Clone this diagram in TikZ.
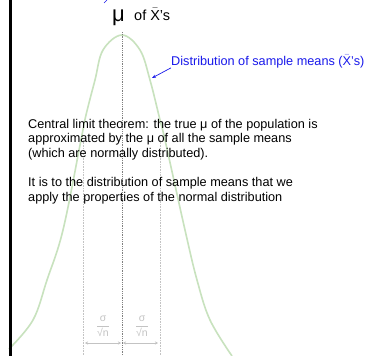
\documentclass[tikz,border=0pt]{standalone}
\usepackage{fontspec, amsmath}
\setmainfont{Liberation Sans}
\usetikzlibrary{positioning, arrows.meta}

\definecolor{curveGreen}{RGB}{200,226,190}
\definecolor{lightGray}{RGB}{195,195,195}
\definecolor{labelBlue}{RGB}{25,25,235}
\newcommand{\xbarchar}{\ensuremath{\bar{\text{X}}}}

\begin{document}
\begin{tikzpicture}[x=1pt, y=-1pt,
    textNode/.style={inner sep=0pt, font=\fontsize{12.7}{14.6}\selectfont},
    blueNode/.style={textNode, text=labelBlue},
    sigmaNode/.style={inner sep=0pt, text=lightGray, font=\fontsize{10.5}{11}\selectfont},
    bellCurve/.style={draw=curveGreen, line width=1.6pt},
    meanLine/.style={draw=gray, densely dotted, line width=0.8pt},
    sideLine/.style={draw=lightGray, densely dotted, line width=0.6pt},
    widthArrow/.style={{Stealth[length=3pt,width=3pt]}-{Stealth[length=3pt,width=3pt]}, draw=lightGray, line width=0.6pt},
    blueArrow/.style={-{Stealth[length=4pt,width=3pt]}, draw=labelBlue, line width=0.7pt}]

  \useasboundingbox[fill=white] (0,0) rectangle (365,356);

  % Bell curve
  \draw[bellCurve] plot[smooth, tension=0.6] coordinates {
    (9,349) (33,320) (47,280) (63,230) (81,140) (86,115) (95,80) (103,50) (122,35)
    (140,50) (150,80) (160,120) (165,140) (185,230) (197,280) (210,320) (232,356)};

  % Mean and sigma lines
  \coordinate (meanTop) at (122,32);
  \coordinate (meanBot) at (122,356);
  \coordinate (leftTop) at (83,140);
  \coordinate (leftBot) at (83,356);
  \coordinate (rightTop) at (160,140);
  \coordinate (rightBot) at (160,356);
  \draw[meanLine] (meanTop) -- (meanBot);
  \draw[sideLine] (leftTop) -- (leftBot);
  \draw[sideLine] (rightTop) -- (rightBot);

  % Axis at the left
  \draw[line width=3pt] (10.5,0) -- (10.5,356);
  \draw[labelBlue, line width=0.7pt] (104,3) -- (107,0);

  % Title
  \node[inner sep=0pt, anchor=base west, font=\fontsize{22}{22}\selectfont] (mu) at (112,21) {μ};
  \node[textNode, anchor=base west, font=\fontsize{14.5}{15}\selectfont] (ofx) at (134,20) {of \xbarchar's};

  % Blue label
  \node[blueNode, anchor=base west] (distLabel) at (171,65) {Distribution of sample means (\xbarchar's)};
  \coordinate (curvePt) at (152,78);
  \draw[blueArrow] (distLabel.south west) -- (curvePt);

  % Text
  \node[textNode, anchor=base west, align=left] (theorem) at (28,201)
    {Central limit theorem: the true μ of the population is\\
     approximated by the μ of all the sample means\\
     (which are normally distributed).\\[14.6pt]
     It is to the distribution of sample means that we\\
     apply the properties of the normal distribution};

  % Standard error
  \node[sigmaNode] (sigmaL) at (103,326) {$\dfrac{\text{σ}}{\text{√n}}$};
  \node[sigmaNode] (sigmaR) at (142,326) {$\dfrac{\text{σ}}{\text{√n}}$};
  \coordinate (arrowL) at (84,343);
  \coordinate (arrowM) at (122,343);
  \coordinate (arrowR) at (159,343);
  \draw[widthArrow, shorten <=1pt, shorten >=1pt] (arrowL) -- (arrowM);
  \draw[widthArrow, shorten <=1pt, shorten >=1pt] (arrowM) -- (arrowR);

\end{tikzpicture}
\end{document}
